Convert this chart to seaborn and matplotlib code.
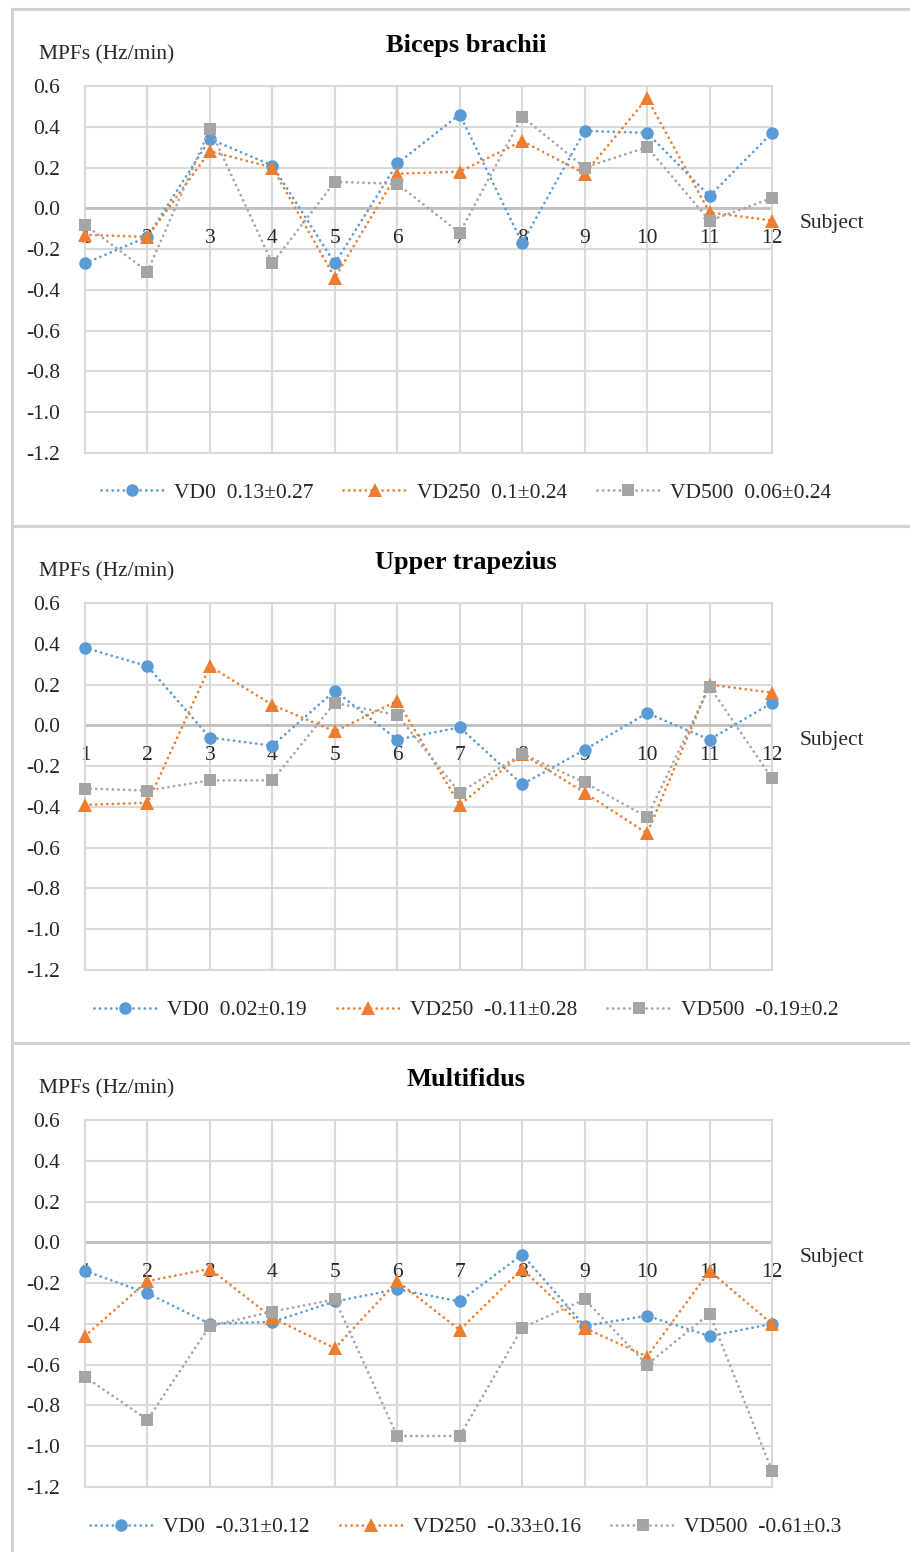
import matplotlib
matplotlib.use("Agg")
import matplotlib.pyplot as plt
import seaborn as sns
from matplotlib.patches import Rectangle
from matplotlib.transforms import blended_transform_factory

# ---- data -------------------------------------------------------------
subjects = list(range(1, 13))
conditions = ["VD0", "VD250", "VD500"]
muscles = ["Biceps brachii", "Upper trapezius", "Multifidus"]

biceps_vd0 = [-0.27, -0.14, 0.34, 0.21, -0.27, 0.22, 0.46, -0.17, 0.38, 0.37, 0.06, 0.37]
biceps_vd250 = [-0.13, -0.14, 0.28, 0.20, -0.34, 0.17, 0.18, 0.33, 0.17, 0.54, -0.02, -0.06]
biceps_vd500 = [-0.08, -0.31, 0.39, -0.27, 0.13, 0.12, -0.12, 0.45, 0.20, 0.30, -0.06, 0.05]

trapezius_vd0 = [0.38, 0.29, -0.06, -0.10, 0.17, -0.07, -0.01, -0.29, -0.12, 0.06, -0.07, 0.11]
trapezius_vd250 = [-0.39, -0.38, 0.29, 0.10, -0.03, 0.12, -0.39, -0.14, -0.33, -0.53, 0.20, 0.16]
trapezius_vd500 = [-0.31, -0.32, -0.27, -0.27, 0.11, 0.05, -0.33, -0.14, -0.28, -0.45, 0.19, -0.26]

multifidus_vd0 = [-0.14, -0.25, -0.40, -0.39, -0.29, -0.23, -0.29, -0.06, -0.41, -0.36, -0.46, -0.40]
multifidus_vd250 = [-0.46, -0.19, -0.13, -0.37, -0.52, -0.19, -0.43, -0.13, -0.42, -0.56, -0.14, -0.40]
multifidus_vd500 = [-0.66, -0.87, -0.41, -0.34, -0.28, -0.95, -0.95, -0.42, -0.28, -0.60, -0.35, -1.12]

# mean ± SD shown in each legend
biceps_stats = ["0.13\u00b10.27", "0.1\u00b10.24", "0.06\u00b10.24"]
trapezius_stats = ["0.02\u00b10.19", "-0.11\u00b10.28", "-0.19\u00b10.2"]
multifidus_stats = ["-0.31\u00b10.12", "-0.33\u00b10.16", "-0.61\u00b10.3"]

y_ticks = [0.6, 0.4, 0.2, 0.0, -0.2, -0.4, -0.6, -0.8, -1.0, -1.2]

series_by_muscle = [
    [biceps_vd0, biceps_vd250, biceps_vd500],
    [trapezius_vd0, trapezius_vd250, trapezius_vd500],
    [multifidus_vd0, multifidus_vd250, multifidus_vd500],
]
stats_by_muscle = [biceps_stats, trapezius_stats, multifidus_stats]

# ---- style ------------------------------------------------------------
sns.set_style("white")
plt.rcParams["font.family"] = ["Liberation Serif", "DejaVu Serif"]
plt.rcParams["axes.unicode_minus"] = False

colors = ["#5B9BD5", "#ED7D31", "#A5A5A5"]
markers = ["o", "^", "s"]
marker_sizes = [9.0, 9.5, 8.2]
text_color = "#262626"
grid_color = "#D9D9D9"
frame_color = "#D2D2D2"
FS = 15.5

W, H = 910, 1552
fig = plt.figure(figsize=(W / 100, H / 100), dpi=100)


def fx(px):
    return px / W


def fy(py):
    return 1 - py / H


panel_tops = [9, 526, 1043]
panel_heights = [517, 517, 600]
ax_left, ax_right = 85, 772

for top, ph, name, series, stats in zip(panel_tops, panel_heights, muscles,
                                        series_by_muscle, stats_by_muscle):
    # panel frame
    fig.patches.append(Rectangle((fx(12), fy(top + ph)), 2.0, ph / H,
                                 transform=fig.transFigure, fill=False,
                                 edgecolor=frame_color, linewidth=2.2, zorder=0))

    ax = fig.add_axes([fx(ax_left), fy(top + 444), (ax_right - ax_left) / W, 367 / H])

    for cond, vals, c, m, ms, st, z in zip(conditions, series, colors, markers,
                                           marker_sizes, stats, [3, 4, 5]):
        sns.lineplot(x=subjects, y=vals, ax=ax, color=c, marker=m, markersize=ms,
                     markeredgewidth=0, linewidth=2.0,
                     linestyle=(0, (0.01, 2.0)), dash_capstyle="round",
                     label=f"{cond}  {st}", zorder=z, clip_on=False)

    ax.set_xlim(1, 12)
    ax.set_ylim(-1.2, 0.6)
    ax.set_yticks(y_ticks)
    ax.set_yticklabels([f"{v:.1f}" for v in y_ticks])
    ax.set_xticks(subjects)
    ax.set_xticklabels([])
    ax.tick_params(axis="x", length=0)
    ax.tick_params(axis="y", length=0, pad=18, labelsize=FS, labelcolor=text_color)
    ax.grid(True, color=grid_color, linewidth=1.5)
    ax.set_axisbelow(True)
    for sp in ax.spines.values():
        sp.set_color(grid_color)
        sp.set_linewidth(1.5)
    ax.axhline(0, color="#BFBFBF", linewidth=2.0, zorder=1)
    ax.set_xlabel("")
    ax.set_ylabel("")

    # category labels sit just below the zero line
    trans = ax.transData
    for s in subjects:
        ax.annotate(str(s), xy=(s, 0), xycoords=trans, xytext=(0, -25),
                    textcoords="offset points", ha="center", va="baseline",
                    fontsize=FS, color=text_color, zorder=2, annotation_clip=False)
    ax.annotate("Subject", xy=(1.0, 0),
                xycoords=blended_transform_factory(ax.transAxes, ax.transData),
                xytext=(20, -14.5), textcoords="offset points", ha="left", va="baseline",
                fontsize=FS, color=text_color, annotation_clip=False)

    fig.text(fx(466), fy(top + 43), name, ha="center", va="baseline",
             fontsize=19, fontweight="bold", color="black")
    fig.text(fx(39), fy(top + 50), "MPFs (Hz/min)", ha="left", va="baseline",
             fontsize=FS, color=text_color)

    handles, labels = ax.get_legend_handles_labels()
    ax.legend(handles, labels, loc="center", bbox_to_anchor=(fx(466), fy(top + 484)),
              bbox_transform=fig.transFigure, ncol=3, frameon=False, fontsize=FS,
              handlelength=2.9, handletextpad=0.5, columnspacing=1.4,
              labelcolor=text_color)

fig.savefig("out.png", dpi=100)
